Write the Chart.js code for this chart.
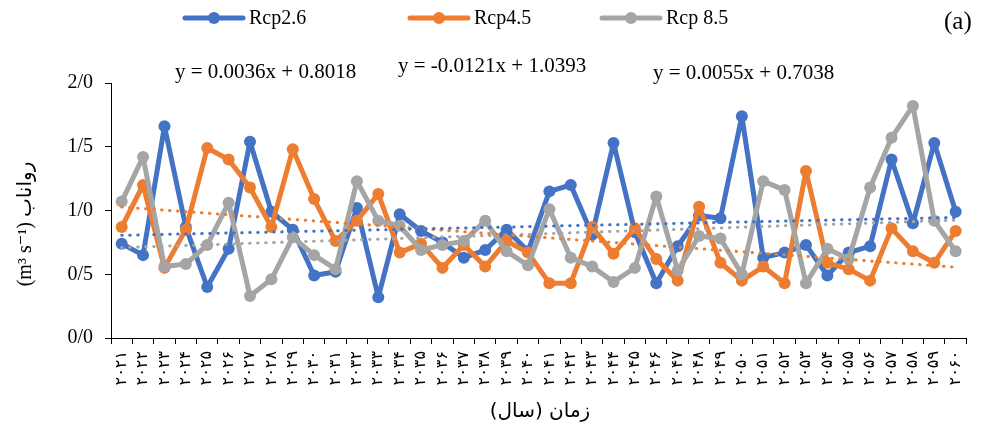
<!DOCTYPE html>
<html>
<head>
<meta charset="utf-8">
<script src="https://cdn.jsdelivr.net/npm/chart.js@4.4.1/dist/chart.umd.min.js"></script>
<style>
  body { margin: 0; background: #fff; }
  canvas { display: block; }
</style>
</head>
<body>
<canvas id="graficoRunoff" width="982" height="428"></canvas>
<script>
// años (eje x, en cifras persas)
const anos = ['۲۰۲۱','۲۰۲۲','۲۰۲۳','۲۰۲۴','۲۰۲۵','۲۰۲۶','۲۰۲۷','۲۰۲۸','۲۰۲۹','۲۰۳۰',
              '۲۰۳۱','۲۰۳۲','۲۰۳۳','۲۰۳۴','۲۰۳۵','۲۰۳۶','۲۰۳۷','۲۰۳۸','۲۰۳۹','۲۰۴۰',
              '۲۰۴۱','۲۰۴۲','۲۰۴۳','۲۰۴۴','۲۰۴۵','۲۰۴۶','۲۰۴۷','۲۰۴۸','۲۰۴۹','۲۰۵۰',
              '۲۰۵۱','۲۰۵۲','۲۰۵۳','۲۰۵۴','۲۰۵۵','۲۰۵۶','۲۰۵۷','۲۰۵۸','۲۰۵۹','۲۰۶۰'];

const rcp26 = [0.74, 0.65, 1.66, 0.87, 0.40, 0.70, 1.54, 0.99, 0.85, 0.49,
               0.52, 1.02, 0.32, 0.97, 0.84, 0.75, 0.63, 0.69, 0.85, 0.68,
               1.15, 1.20, 0.81, 1.53, 0.83, 0.43, 0.72, 0.96, 0.94, 1.74,
               0.63, 0.67, 0.73, 0.49, 0.67, 0.72, 1.40, 0.90, 1.53, 0.99];

const rcp45 = [0.87, 1.20, 0.55, 0.85, 1.49, 1.40, 1.18, 0.87, 1.48, 1.09,
               0.76, 0.92, 1.13, 0.67, 0.74, 0.55, 0.73, 0.56, 0.76, 0.67,
               0.43, 0.43, 0.87, 0.66, 0.86, 0.62, 0.45, 1.03, 0.59, 0.45,
               0.56, 0.43, 1.31, 0.59, 0.54, 0.45, 0.86, 0.68, 0.59, 0.84];

const rcp85 = [1.07, 1.42, 0.56, 0.58, 0.73, 1.06, 0.33, 0.46, 0.79, 0.65,
               0.54, 1.23, 0.92, 0.88, 0.69, 0.73, 0.76, 0.92, 0.68, 0.57,
               1.01, 0.63, 0.56, 0.44, 0.55, 1.11, 0.53, 0.80, 0.78, 0.50,
               1.23, 1.16, 0.43, 0.70, 0.62, 1.18, 1.57, 1.82, 0.92, 0.68];

// coeficientes de las líneas de tendencia (y = a x + b)
const pendientes = [0.0036, -0.0121, 0.0055];
const interceptos = [0.8018, 1.0393, 0.7038];
const ecuaciones = ['y = 0.0036x + 0.8018', 'y = -0.0121x + 1.0393', 'y = 0.0055x + 0.7038'];

const nombresSeries = ['Rcp2.6', 'Rcp4.5', 'Rcp 8.5'];
const yEtiquetas = ['0/0', '0/5', '1/0', '1/5', '2/0'];
const tituloY = '(m³ s⁻¹) رواناب';
const tituloX = 'زمان (سال)';
const letraPanel = '(a)';

const colores = ['#4472C4', '#ED7D31', '#A5A5A5'];

// solo los extremos, la recta se une con spanGaps
function lineaTendencia(a, b) {
  return anos.map((t, i) => (i === 0 || i === anos.length - 1) ? a * (i + 1) + b : null);
}

function serie(label, datos, color, orden) {
  return {
    label: label,
    data: datos,
    borderColor: color,
    backgroundColor: color,
    pointBackgroundColor: color,
    pointBorderColor: color,
    borderWidth: 5,
    borderJoinStyle: 'round',
    pointRadius: 6,
    pointBorderWidth: 0,
    tension: 0,
    order: orden
  };
}

function tendencia(i) {
  return {
    label: 'tendencia ' + nombresSeries[i],
    data: lineaTendencia(pendientes[i], interceptos[i]),
    borderColor: colores[i],
    borderWidth: 3,
    borderDash: [0.5, 7.5],
    borderCapStyle: 'round',
    pointRadius: 0,
    spanGaps: true,
    order: i
  };
}

const SERIF = "'Liberation Serif', 'Times New Roman', serif";

// leyenda, ecuaciones y títulos de ejes dibujados a mano
const textosExtra = {
  id: 'textosExtra',
  afterDraw(chart) {
    const ctx = chart.ctx;
    ctx.save();

    // leyenda
    const leyendaX = [185, 410, 602];
    ctx.font = '20px ' + SERIF;
    ctx.textBaseline = 'middle';
    ctx.textAlign = 'left';
    for (let i = 0; i < 3; i++) {
      let x0 = leyendaX[i];
      ctx.strokeStyle = colores[i];
      ctx.lineWidth = 5;
      ctx.lineCap = 'round';
      ctx.beginPath();
      ctx.moveTo(x0, 18);
      ctx.lineTo(x0 + 58, 18);
      ctx.stroke();
      ctx.fillStyle = colores[i];
      ctx.beginPath();
      ctx.arc(x0 + 29, 18, 6, 0, Math.PI * 2);
      ctx.fill();
      ctx.fillStyle = '#000';
      ctx.fillText(nombresSeries[i], x0 + 64, 19);
    }

    // (a)
    ctx.font = '25px ' + SERIF;
    ctx.fillText(letraPanel, 944, 22);

    // ecuaciones
    ctx.font = '21px ' + SERIF;
    const ecX = [175, 398, 653];
    const ecY = [72, 66, 73];
    for (let i = 0; i < 3; i++) {
      ctx.fillText(ecuaciones[i], ecX[i], ecY[i]);
    }

    // título eje y
    ctx.save();
    ctx.translate(26, 224);
    ctx.rotate(-Math.PI / 2);
    ctx.textAlign = 'center';
    ctx.font = "20px 'Liberation Serif', 'DejaVu Sans', serif";
    ctx.fillText(tituloY, 0, 0);
    ctx.restore();

    // título eje x
    ctx.direction = 'rtl';
    ctx.textAlign = 'center';
    ctx.font = "20px 'DejaVu Sans', sans-serif";
    ctx.fillText(tituloX, 540, 412);

    ctx.restore();
  }
};

let contenedor = document.getElementById('graficoRunoff');
let configuracion = {
  type: 'line',
  data: {
    labels: anos,
    datasets: [
      serie(nombresSeries[0], rcp26, colores[0], 5),
      serie(nombresSeries[1], rcp45, colores[1], 4),
      serie(nombresSeries[2], rcp85, colores[2], 3),
      tendencia(0),
      tendencia(1),
      tendencia(2)
    ]
  },
  options: {
    responsive: false,
    animation: false,
    events: [],
    layout: { padding: { top: 83, right: 10, left: 0, bottom: 0 } },
    plugins: {
      legend: { display: false },
      tooltip: { enabled: false }
    },
    scales: {
      x: {
        offset: true,
        grid: { display: true, drawOnChartArea: false, drawTicks: true, tickLength: 6, color: '#000', offset: true },
        border: { color: '#000', width: 1 },
        ticks: {
          autoSkip: false,
          minRotation: 90,
          maxRotation: 90,
          padding: 7,
          color: '#000',
          font: { family: "'DejaVu Sans'", size: 16 }
        },
        afterFit: function (s) { s.height = 90; }
      },
      y: {
        min: 0,
        max: 2,
        grid: { drawOnChartArea: false, drawTicks: true, tickLength: 6, color: '#000' },
        border: { color: '#000', width: 1 },
        ticks: {
          stepSize: 0.5,
          padding: 12,
          color: '#000',
          font: { family: SERIF, size: 20 },
          callback: function (v, i) { return yEtiquetas[i]; }
        },
        afterFit: function (s) { s.width = 111; }
      }
    }
  },
  plugins: [textosExtra]
};

let graficoRunoff = new Chart(contenedor, configuracion);
</script>
</body>
</html>
